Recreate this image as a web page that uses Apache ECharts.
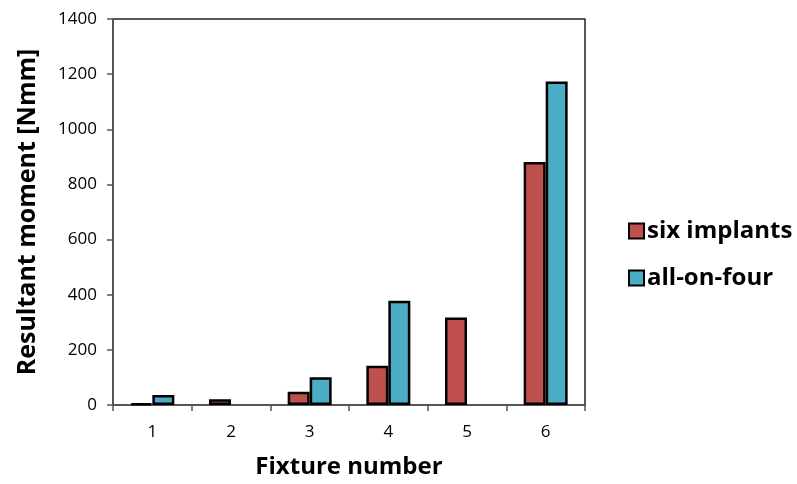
<!DOCTYPE html>
<html><head><meta charset="utf-8">
<script src="https://cdn.jsdelivr.net/npm/echarts@6/dist/echarts.min.js"></script>
<style>html,body{margin:0;padding:0;background:#fff}#c{width:797px;height:484px}</style>
</head><body><div id="c"></div>
<script>
const categories = ['1','2','3','4','5','6'];
const sixImplants = [6, 21, 48, 142, 317, 881];
const allOnFour = [36, null, 101, 378, null, 1173];
const yTicks = [0, 200, 400, 600, 800, 1000, 1200, 1400];

const font = '"Open Sans", "Noto Sans", sans-serif';
const chart = echarts.init(document.getElementById('c'));
chart.setOption({
  animation: false,
  grid: { left: 113, top: 19, width: 472, height: 386, show: true, borderColor: '#222', borderWidth: 1.5, backgroundColor: 'transparent' },
  legend: {
    orient: 'vertical', left: 623, top: 214, itemWidth: 15, itemHeight: 15, itemGap: 23,
    icon: 'rect',
    textStyle: { fontFamily: font, fontWeight: 'bold', fontSize: 24, color: '#000', padding: [0,0,0,-2] },
    data: ['six implants', 'all-on-four']
  },
  xAxis: {
    type: 'category', data: categories,
    name: 'Fixture number', nameLocation: 'middle', nameGap: 50,
    nameTextStyle: { fontFamily: font, fontWeight: 'bold', fontSize: 24, color: '#000' },
    axisLine: { lineStyle: { color: '#555', width: 1.5 } },
    axisTick: { show: true, length: 6, lineStyle: { color: '#555', width: 1.5 } },
    axisLabel: { fontFamily: font, fontSize: 17, color: '#000', margin: 19 }
  },
  yAxis: {
    type: 'value', min: 0, max: 1400, interval: 200,
    name: 'Resultant moment [Nmm]', nameLocation: 'middle', nameGap: 73,
    nameTextStyle: { fontFamily: font, fontWeight: 'bold', fontSize: 25, color: '#000' },
    axisLine: { show: true, lineStyle: { color: '#555', width: 1.5 } },
    axisTick: { show: true, length: 6, lineStyle: { color: '#555', width: 1.5 } },
    splitLine: { show: false },
    axisLabel: { fontFamily: font, fontSize: 17, color: '#000', margin: 16,
      formatter: v => yTicks.includes(v) ? String(v) : '' }
  },
  series: [
    { name: 'six implants', type: 'bar', data: sixImplants, barWidth: 22, barGap: '0%',
      itemStyle: { color: '#C0504D', borderColor: '#000', borderWidth: 2.5 } },
    { name: 'all-on-four', type: 'bar', data: allOnFour, barWidth: 22, barGap: '0%',
      itemStyle: { color: '#4BACC6', borderColor: '#000', borderWidth: 2.5 } }
  ]
});
</script></body></html>
